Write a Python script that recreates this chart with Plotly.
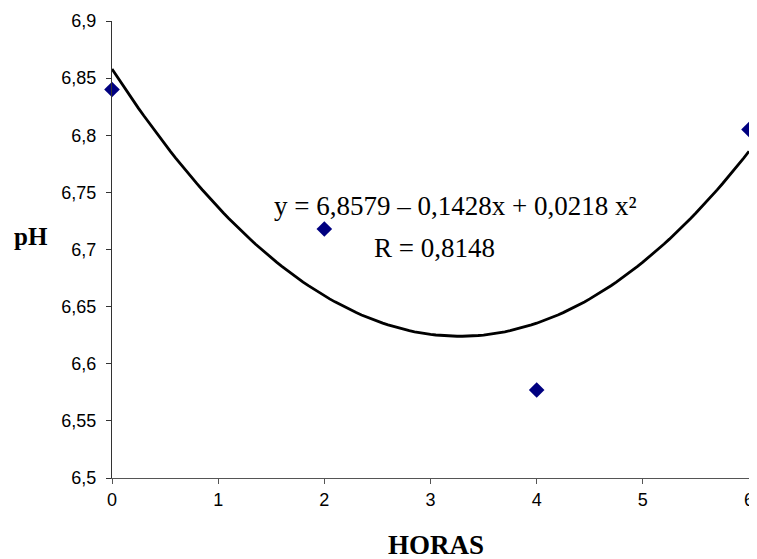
import numpy as np
import plotly.graph_objects as go

horas = [0, 2, 4, 6]
ph = [6.84, 6.718, 6.577, 6.805]

# trendline coefficients as printed on the chart: y = c0 + c1*x + c2*x^2
coef = [6.8579, -0.1428, 0.0218]

y_ticks = [6.5, 6.55, 6.6, 6.65, 6.7, 6.75, 6.8, 6.85, 6.9]
y_ticktext = ["6,5", "6,55", "6,6", "6,65", "6,7", "6,75", "6,8", "6,85", "6,9"]
x_ticks = [0, 1, 2, 3, 4, 5, 6]
x_ticktext = ["0", "1", "2", "3", "4", "5", "6"]

xf = np.linspace(0, 6, 121)
yf = coef[0] + coef[1] * xf + coef[2] * xf ** 2

fig = go.Figure()
fig.add_trace(go.Scatter(x=xf, y=yf, mode="lines",
                         line=dict(color="black", width=2.8), hoverinfo="skip"))
fig.add_trace(go.Scatter(x=horas, y=ph, mode="markers", cliponaxis=False,
                         marker=dict(symbol="diamond", size=12, color="#000080")))

serif = "Liberation Serif"
fig.add_annotation(x=3.24, y=6.738, xref="x", yref="y", showarrow=False,
                   xanchor="center", yanchor="middle",
                   text="y = 6,8579 – 0,1428x + 0,0218 x²",
                   font=dict(family=serif, size=27, color="black"))
fig.add_annotation(x=3.04, y=6.701, xref="x", yref="y", showarrow=False,
                   xanchor="center", yanchor="middle",
                   text="R = 0,8148",
                   font=dict(family=serif, size=27, color="black"))

fig.add_annotation(x=-0.127, y=0.5295, xref="paper", yref="paper", showarrow=False,
                   text="<b>pH</b>", xanchor="center", yanchor="middle",
                   font=dict(family=serif, size=25, color="black"))
fig.add_annotation(x=0.509, y=-0.1466, xref="paper", yref="paper", showarrow=False,
                   text="<b>HORAS</b>", xanchor="center", yanchor="middle",
                   font=dict(family=serif, size=27, color="black"))

# the page body has an 8px margin, so the figure is offset by 8px
fig.update_layout(
    width=749, height=551,
    margin=dict(l=104, r=8, t=13, b=81, autoexpand=False),
    paper_bgcolor="white", plot_bgcolor="white",
    showlegend=False,
    font=dict(family="Liberation Sans", size=18, color="black"),
    xaxis=dict(range=[0, 6], tickvals=x_ticks, ticktext=x_ticktext,
               showgrid=False, zeroline=False, automargin=False,
               ticklabeloverflow="allow",
               showline=True, linecolor="#555555", linewidth=1,
               ticks="outside", ticklen=5, tickcolor="#555555",
               tickfont=dict(family="Liberation Sans", size=18)),
    yaxis=dict(range=[6.5, 6.9], tickvals=y_ticks, ticktext=y_ticktext,
               showgrid=False, zeroline=False, automargin=False,
               ticklabeloverflow="allow", ticklabelstandoff=6,
               showline=True, linecolor="#333333", linewidth=1,
               ticks="outside", ticklen=5, tickcolor="#333333",
               tickfont=dict(family="Liberation Sans", size=18)),
)

fig.write_html("out.html")
